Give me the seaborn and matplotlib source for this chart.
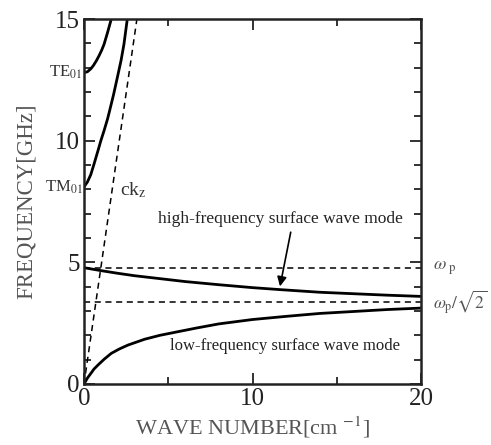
import numpy as np
import pandas as pd
import matplotlib
matplotlib.use("Agg")
import matplotlib.pyplot as plt
import seaborn as sns
from matplotlib.ticker import MultipleLocator

# ---- data ----
tm01_k = [0, 0.2, 0.4, 0.6, 0.83, 1.0, 1.19, 1.4, 1.52, 1.76, 1.98, 2.2, 2.37, 2.57]
tm01_f = [8.1, 8.3, 8.6, 9.05, 9.59, 10.0, 10.41, 10.9, 11.23, 11.91, 12.6, 13.3, 13.96, 15.0]

te01_k = [0, 0.2, 0.4, 0.55, 0.73, 0.9, 1.05, 1.19, 1.4, 1.62]
te01_f = [12.8, 12.83, 12.95, 13.08, 13.28, 13.5, 13.72, 13.96, 14.45, 15.0]

ck_k = [0, 3.14]
ck_f = [0, 15.0]

hf_k = [0, 1, 2, 3, 4, 5, 6, 8, 10, 11.6, 14, 16, 18, 20]
hf_f = [4.78, 4.66, 4.55, 4.45, 4.37, 4.29, 4.21, 4.08, 3.96, 3.88, 3.77, 3.71, 3.65, 3.60]

lf_k = [0, 0.1, 0.2, 0.4, 0.6, 0.83, 1.2, 1.62, 2.1, 2.61, 3.6, 4.5, 5.58, 6.67, 8.0, 10, 12, 14, 16, 18, 20]
lf_f = [0, 0.12, 0.24, 0.43, 0.62, 0.78, 1.02, 1.26, 1.44, 1.6, 1.84, 2.0, 2.15, 2.3, 2.47, 2.65, 2.78, 2.9, 2.98, 3.06, 3.12]

omega_p = 4.77
omega_p_sqrt2 = 3.37

x_ticks = [0, 10, 20]
y_ticks = [0, 5, 10, 15]

sns.set_theme(style="ticks")
plt.rcParams["font.family"] = ["Liberation Serif", "DejaVu Serif"]
plt.rcParams["mathtext.fontset"] = "stix"

fig = plt.figure(figsize=(4.91, 4.45), dpi=100)
ax = fig.add_axes([84/491, 1-384/445, (421-84)/491, (384-19)/445])

solid = dict(color="black", linewidth=2.0, legend=False)
for k, f in [(tm01_k, tm01_f), (te01_k, te01_f), (hf_k, hf_f), (lf_k, lf_f)]:
    df = pd.DataFrame({"k": k, "f": f})
    sns.lineplot(data=df, x="k", y="f", ax=ax, sort=False, estimator=None, **solid)

df_ck = pd.DataFrame({"k": ck_k, "f": ck_f})
sns.lineplot(data=df_ck, x="k", y="f", ax=ax, color="black", linewidth=1.1,
             linestyle=(0, (4, 3)), legend=False)

for yv in [omega_p, omega_p_sqrt2]:
    ax.plot([0, 20], [yv, yv], color="black", linewidth=1.1, linestyle=(0, (4, 3)))

ax.set_xlim(0, 20)
ax.set_ylim(0, 15)
ax.set_xticks(x_ticks)
ax.set_yticks(y_ticks)
ax.xaxis.set_minor_locator(MultipleLocator(5))
ax.yaxis.set_minor_locator(MultipleLocator(1))
ax.tick_params(which="both", direction="in", top=True, right=True, width=1.3, color="#222222")
ax.tick_params(which="major", length=8, labelsize=18, pad=3, labelcolor="#222222")
ax.tick_params(which="minor", length=5)
for s in ax.spines.values():
    s.set_linewidth(1.8)
    s.set_color("#222222")

ax.set_xlabel("WAVE NUMBER[cm $^{-1}$]", fontsize=16, color="#555555", labelpad=3)
ax.set_ylabel("FREQUENCY[GHz]", fontsize=16.5, color="#555555")
ax.yaxis.set_label_coords(-0.14, 0.5)

# text labels
ax.text(-0.1, 12.8, r"TE$_{01}$", ha="right", va="center", fontsize=12, color="#333333")
ax.text(-0.1, 8.1, r"TM$_{01}$", ha="right", va="center", fontsize=12, color="#333333")
ax.text(2.15, 7.95, r"ck$_{\rm z}$", ha="left", va="center", fontsize=14, color="#333333")
ax.text(20.7, 4.75, r"$\omega_{\rm \ p}$", ha="left", va="center", fontsize=13, color="#555555")
ax.text(20.7, 3.35, r"$\omega_{\rm p}/\sqrt{2}$", ha="left", va="center", fontsize=12.5, color="#555555")
ax.text(11.63, 6.8, "high-frequency surface wave mode", ha="center", va="center", fontsize=12.5, color="#222222")
ax.text(11.9, 1.56, "low-frequency surface wave mode", ha="center", va="center", fontsize=12, color="#222222")
ax.annotate("", xy=(11.6, 3.9), xytext=(12.3, 6.35),
            arrowprops=dict(arrowstyle="-|>", color="black", lw=1.2, mutation_scale=14))

fig.savefig("out.png", dpi=100)
